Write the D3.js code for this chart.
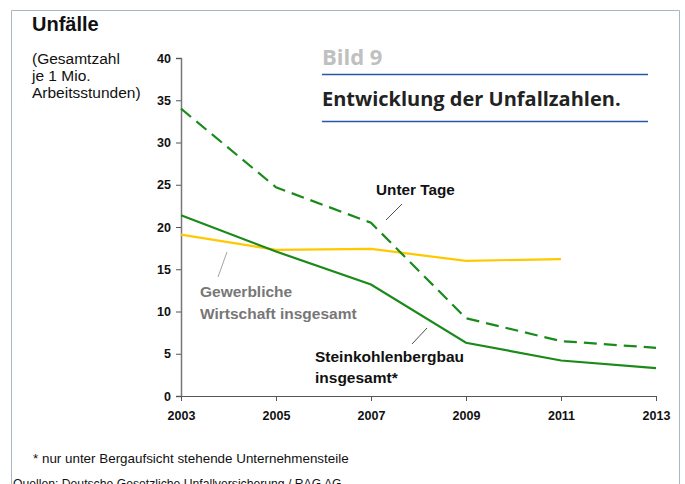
<!DOCTYPE html>
<html>
<head>
<meta charset="utf-8">
<script src="https://cdn.jsdelivr.net/npm/d3@7"></script>
<style>
  body { margin: 0; background: #fff; overflow: hidden; }
  text { font-family: "Liberation Sans", Arial, sans-serif; }
</style>
</head>
<body>
<div id="chart"></div>
<script>
// Daten
const years = [2003, 2005, 2007, 2009, 2011, 2013];
const unterTage = [34.0, 24.7, 20.5, 9.2, 6.5, 5.7];
const steinkohle = [21.4, 17.1, 13.2, 6.3, 4.2, 3.3];
const gewerbYears = [2003, 2005, 2007, 2009, 2011];
const gewerblich = [19.1, 17.3, 17.4, 16.0, 16.2];
const yTicks = [0, 5, 10, 15, 20, 25, 30, 35, 40];

const W = 685, H = 484;
const svg = d3.select("#chart").append("svg")
  .attr("width", W).attr("height", H);

// Rahmen
svg.append("path")
  .attr("d", "M11.5,484 L11.5,10.5 L679.5,10.5 L679.5,484")
  .attr("fill", "none")
  .attr("stroke", "#a9b6c4")
  .attr("stroke-width", 1);

const x = d3.scaleLinear().domain([2003, 2013]).range([181, 656]);
const y = d3.scaleLinear().domain([0, 40]).range([396, 58]);

// y-Achse
const yAxis = svg.append("g")
  .attr("transform", "translate(181,0)")
  .call(d3.axisLeft(y).tickValues(yTicks).tickSize(5).tickPadding(4));
yAxis.select(".domain").attr("stroke", "#777").attr("stroke-width", 1.5);
yAxis.selectAll(".tick line").attr("stroke", "#555");
yAxis.selectAll("text")
  .style("font-size", "12.5px").style("font-weight", "bold")
  .attr("fill", "#111").attr("dx", "-1");

// x-Achse
const xAxis = svg.append("g")
  .attr("transform", "translate(0,396)")
  .call(d3.axisBottom(x).tickValues(years).tickFormat(d3.format("d"))
    .tickSizeInner(5).tickSizeOuter(0).tickPadding(5));
xAxis.select(".domain").attr("stroke", "#555").attr("stroke-width", 1.2);
xAxis.selectAll(".tick line").attr("stroke", "#555");
xAxis.selectAll("text")
  .style("font-size", "12.5px").style("font-weight", "bold")
  .attr("fill", "#111").attr("dy", "1.1em");

// Linien
const line = d3.line().x((d) => x(d[0])).y((d) => y(d[1]));

svg.append("path")
  .datum(gewerbYears.map((yr, i) => [yr, gewerblich[i]]))
  .attr("d", line).attr("fill", "none")
  .attr("stroke", "#ffc800").attr("stroke-width", 2.2);

svg.append("path")
  .datum(years.map((yr, i) => [yr, steinkohle[i]]))
  .attr("d", line).attr("fill", "none")
  .attr("stroke", "#1a8a1a").attr("stroke-width", 2.2);

svg.append("path")
  .datum(years.map((yr, i) => [yr, unterTage[i]]))
  .attr("d", line).attr("fill", "none")
  .attr("stroke", "#1a8a1a").attr("stroke-width", 2.2)
  .attr("stroke-dasharray", "13,7");

// Titel links
svg.append("text").attr("x", 32).attr("y", 31)
  .text("Unfälle").style("font-size", "20px").style("font-weight", "bold")
  .attr("fill", "#111");
["(Gesamtzahl", "je 1 Mio.", "Arbeitsstunden)"].forEach((t, i) => {
  svg.append("text").attr("x", 32).attr("y", 64 + i * 17)
    .text(t).style("font-size", "15.5px").attr("fill", "#111");
});

// Bild-Titel
svg.append("text").attr("x", 322).attr("y", 65)
  .text("Bild 9")
  .style("font-family", "'Open Sans', sans-serif")
  .style("font-size", "22px").style("font-weight", "bold")
  .attr("fill", "#c0c0c0");
svg.append("line").attr("x1", 322).attr("x2", 648)
  .attr("y1", 74.5).attr("y2", 74.5)
  .attr("stroke", "#2857a4").attr("stroke-width", 1.3);
svg.append("text").attr("x", 322).attr("y", 106)
  .text("Entwicklung der Unfallzahlen.")
  .style("font-family", "'Open Sans', sans-serif")
  .style("font-size", "20px").style("font-weight", "bold")
  .attr("fill", "#222");
svg.append("line").attr("x1", 322).attr("x2", 648)
  .attr("y1", 121.5).attr("y2", 121.5)
  .attr("stroke", "#2857a4").attr("stroke-width", 1.3);

// Beschriftungen
svg.append("text").attr("x", 376).attr("y", 195)
  .text("Unter Tage").style("font-size", "15.3px").style("font-weight", "bold")
  .attr("fill", "#111");
svg.append("line").attr("x1", 402).attr("y1", 204).attr("x2", 386).attr("y2", 220)
  .attr("stroke", "#222").attr("stroke-width", 0.8);

svg.append("text").attr("x", 200).attr("y", 297)
  .text("Gewerbliche").style("font-size", "15.5px").style("font-weight", "bold")
  .attr("fill", "#777");
svg.append("text").attr("x", 200).attr("y", 319)
  .text("Wirtschaft insgesamt").style("font-size", "15.5px").style("font-weight", "bold")
  .attr("fill", "#777");
svg.append("line").attr("x1", 227).attr("y1", 252).attr("x2", 218).attr("y2", 277)
  .attr("stroke", "#999").attr("stroke-width", 0.9);

svg.append("text").attr("x", 315).attr("y", 362)
  .text("Steinkohlenbergbau").style("font-size", "15.5px").style("font-weight", "bold")
  .attr("fill", "#111");
svg.append("text").attr("x", 315).attr("y", 383)
  .text("insgesamt*").style("font-size", "15.5px").style("font-weight", "bold")
  .attr("fill", "#111");
svg.append("line").attr("x1", 427).attr("y1", 328).attr("x2", 412).attr("y2", 344)
  .attr("stroke", "#222").attr("stroke-width", 0.8);

// Fußnoten
svg.append("text").attr("x", 33).attr("y", 463)
  .text("* nur unter Bergaufsicht stehende Unternehmensteile")
  .style("font-size", "13.4px").attr("fill", "#111");
svg.append("text").attr("x", 13).attr("y", 488)
  .text("Quellen: Deutsche Gesetzliche Unfallversicherung / RAG AG")
  .style("font-size", "12.2px").attr("fill", "#111");
</script>
</body>
</html>
